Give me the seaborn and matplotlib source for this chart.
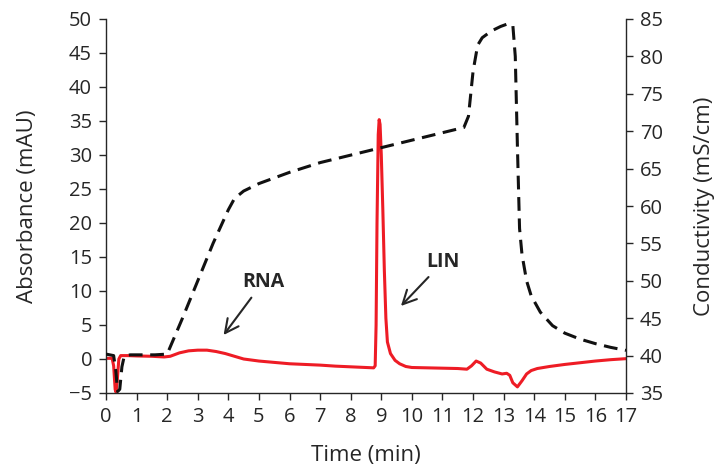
import matplotlib
matplotlib.use("Agg")
import matplotlib.pyplot as plt
import seaborn as sns

# Absorbance trace (red, left axis)
abs_time = [0, 0.2, 0.25, 0.3, 0.33, 0.37, 0.42, 0.48, 0.7, 1.0, 1.5, 1.9, 2.1, 2.4, 2.7,
            3.0, 3.3, 3.6, 3.9, 4.2, 4.5, 5.0, 5.5, 6.0, 6.5, 7.0, 7.5, 8.0, 8.5, 8.75,
            8.8, 8.83, 8.86, 8.9, 8.93, 8.96, 9.0, 9.05, 9.1, 9.15, 9.2, 9.3, 9.45, 9.6,
            9.8, 10.0, 10.5, 11.0, 11.5, 11.8, 11.95, 12.1, 12.25, 12.45, 12.7, 12.95,
            13.1, 13.2, 13.3, 13.45, 13.6, 13.75, 13.9, 14.1, 14.5, 15.0, 15.5, 16.0,
            16.5, 17.0]
abs_mau = [0.1, 0.1, -1.0, -4.5, -4.9, -3.0, 0.0, 0.5, 0.5, 0.45, 0.4, 0.3, 0.4, 0.9, 1.2,
           1.3, 1.3, 1.1, 0.8, 0.4, 0.0, -0.3, -0.5, -0.7, -0.8, -0.9, -1.05, -1.15, -1.25, -1.3,
           -1.0, 5.0, 20.0, 33.0, 35.2, 34.5, 30.0, 22.0, 13.0, 6.0, 2.5, 0.8, -0.2, -0.7,
           -1.1, -1.25, -1.3, -1.35, -1.4, -1.5, -1.0, -0.3, -0.6, -1.5, -1.9, -2.2,
           -2.1, -2.4, -3.5, -4.1, -3.2, -2.2, -1.7, -1.4, -1.1, -0.8, -0.55, -0.3,
           -0.1, 0.05]

# Conductivity trace (dashed black, right axis)
cond_time = [0, 0.25, 0.32, 0.38, 0.45, 0.52, 0.6, 0.8, 1.2, 1.6, 2.0, 2.5, 3.0, 3.5, 4.0,
             4.2, 4.5, 5.0, 6.0, 7.0, 8.0, 9.0, 10.0, 11.0, 11.7, 11.85, 12.0, 12.15, 12.3,
             12.6, 12.9, 13.1, 13.3, 13.38, 13.45, 13.52, 13.6, 13.75, 13.9, 14.2, 14.6,
             15.0, 15.5, 16.0, 16.5, 17.0]
cond_ms = [40.2, 40.0, 38.0, 35.2, 35.5, 38.5, 40.0, 40.1, 40.1, 40.1, 40.2, 45.0, 50.0, 55.0, 59.5,
           61.0, 62.0, 63.0, 64.5, 65.8, 66.8, 67.8, 68.8, 69.8, 70.5, 72.0, 78.0, 81.5, 82.5,
           83.4, 84.0, 84.3, 84.2, 80.0, 68.0, 57.0, 53.5, 50.0, 48.0, 45.8, 44.0,
           43.0, 42.2, 41.6, 41.1, 40.7]

x_ticks = list(range(0, 18))
abs_ticks = list(range(-5, 51, 5))
cond_ticks = list(range(35, 86, 5))

sns.set_style("ticks")
plt.rcParams['font.family'] = ['Open Sans', 'DejaVu Sans']
text_col = "#262626"

fig = plt.figure(figsize=(7.18, 4.67), dpi=100)
ax = fig.add_axes([106 / 718, 74 / 467, 520 / 718, 374 / 467])

sns.lineplot(x=abs_time, y=abs_mau, ax=ax, color="#ee1c25", lw=2.2, sort=False)
ax.set_xlim(0, 17)
ax.set_ylim(-5, 50)
ax.set_xticks(x_ticks)
ax.set_yticks(abs_ticks)
ax.set_yticklabels([str(v).replace("-", "\u2212") for v in abs_ticks])
ax.set_xlabel("Time (min)", fontsize=16, color=text_col, labelpad=13)
ax.set_ylabel("Absorbance (mAU)", fontsize=16, color=text_col, labelpad=22)

ax2 = ax.twinx()
sns.lineplot(x=cond_time, y=cond_ms, ax=ax2, color="#111111", lw=2.2, sort=False)
ax2.lines[0].set_dashes([4.5, 2.5])
ax2.set_ylim(35, 85)
ax2.set_yticks(cond_ticks)
ax2.set_ylabel("Conductivity (mS/cm)", fontsize=16, color=text_col, labelpad=22)

for a in (ax, ax2):
    a.tick_params(direction="out", length=5, width=1.0, labelsize=14.5, colors=text_col, pad=5)
    for s in a.spines.values():
        s.set_linewidth(1.0)
        s.set_color(text_col)
    a.spines["top"].set_visible(False)
ax.spines["right"].set_visible(False)
ax2.spines["left"].set_visible(False)
ax2.spines["bottom"].set_visible(False)

arrow = dict(arrowstyle="->, head_length=0.7, head_width=0.35", color=text_col, lw=1.5)
ax.annotate("RNA", xy=(3.79, 3.2), xytext=(5.13, 11.3), ha="center", va="center",
            fontsize=14, fontweight="bold", color=text_col, arrowprops=arrow)
ax.annotate("LIN", xy=(9.58, 7.5), xytext=(11.02, 14.3), ha="center", va="center",
            fontsize=14, fontweight="bold", color=text_col, arrowprops=arrow)

fig.savefig("out.png", dpi=100)
